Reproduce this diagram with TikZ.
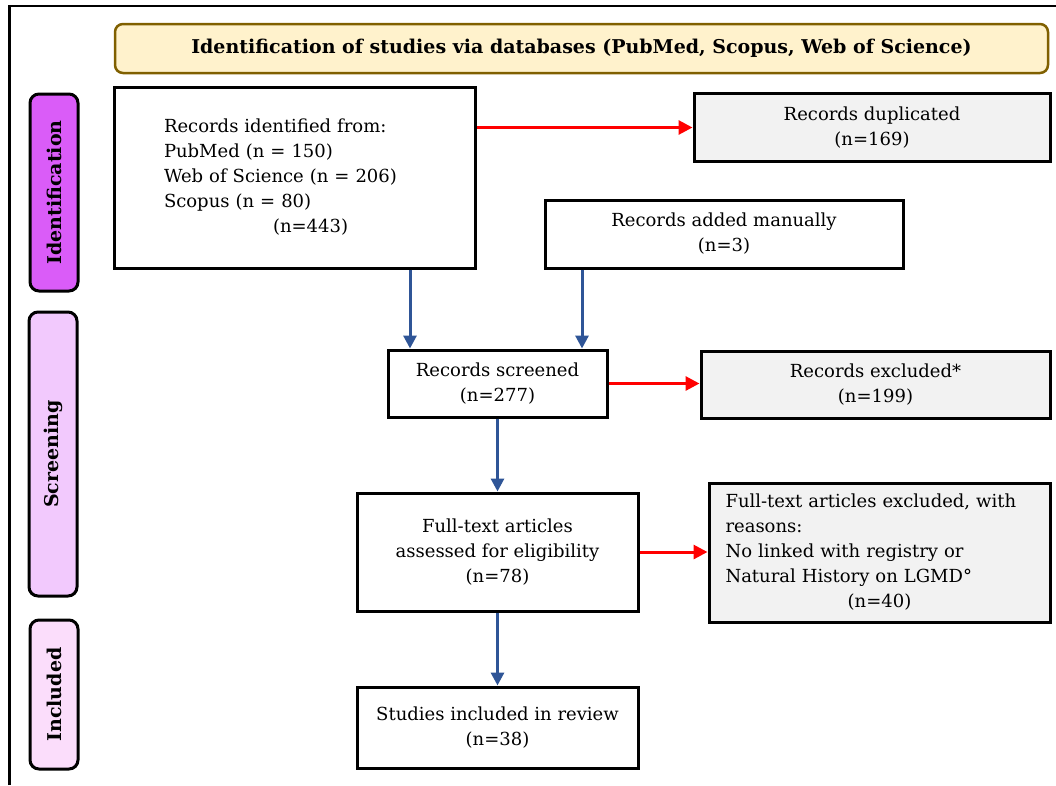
\documentclass[tikz,border=0pt]{standalone}
\usepackage{fontspec}
\setmainfont{DejaVu Serif}
\usetikzlibrary{arrows.meta}
\definecolor{titlefill}{HTML}{FFF2CC}
\definecolor{titlebrown}{HTML}{806000}
\definecolor{lanemag}{HTML}{DA5CF8}
\definecolor{lanepink}{HTML}{F2C9FD}
\definecolor{lanelight}{HTML}{FBDDFB}
\definecolor{boxgray}{HTML}{F2F2F2}
\definecolor{arrowred}{HTML}{FF0000}
\definecolor{arrowblue}{HTML}{2F5597}
\begin{document}
\begin{tikzpicture}[x=1pt,y=-1pt,
  box/.style={draw=black, line width=3pt, fill=white, align=center, inner sep=0pt,
    font=\fontsize{18}{25}\selectfont},
  graybox/.style={box, fill=boxgray},
  lane/.style={draw=black, line width=3pt, rounded corners=9pt, rotate=90, inner sep=0pt,
    font=\bfseries\fontsize{19}{22}\selectfont},
  redarrow/.style={draw=arrowred, line width=3pt, -{Triangle[length=14pt,width=14pt]}},
  bluearrow/.style={draw=arrowblue, line width=3pt, -{Triangle[length=13pt,width=13pt]}}]
\useasboundingbox (0,0) rectangle (1056,785);
\fill[white] (0,0) rectangle (1056,785);
% outer frame
\draw[line width=2.5pt] (9.5,785) -- (9.5,6) -- (1056,6);
% title
\node[draw=titlebrown, fill=titlefill, line width=2.5pt, rounded corners=8pt,
  minimum width=933pt, minimum height=49pt, inner sep=0pt,
  font=\bfseries\fontsize{19}{22}\selectfont] (title) at (581.5,48.5)
  {Identification of studies via databases (PubMed, Scopus, Web of Science)};
% lanes
\node[lane, fill=lanemag, minimum width=197pt, minimum height=48pt] (lid) at (54,192.5) {Identification};
\node[lane, fill=lanepink, minimum width=284pt, minimum height=48pt] (lsc) at (53,454) {Screening};
\node[lane, fill=lanelight, minimum width=149pt, minimum height=48pt] (lin) at (54,694.5) {Included};
% boxes
\node[box, minimum width=361pt, minimum height=181pt, text width=261pt, align=left] (ident) at (294.5,177.5)
  {Records identified from:\\ PubMed (n = 150)\\ Web of Science (n = 206)\\ Scopus (n = 80)\\ \hspace*{109pt}(n=443)};
\node[graybox, minimum width=356pt, minimum height=68pt] (dup) at (872,127.5)
  {Records duplicated\\ (n=169)};
\node[box, minimum width=358pt, minimum height=68pt] (manual) at (724,234)
  {Records added manually\\ (n=3)};
\node[box, minimum width=219pt, minimum height=67pt] (screen) at (497.5,383.5)
  {Records screened\\ (n=277)};
\node[graybox, minimum width=349pt, minimum height=67pt] (excl) at (875.5,384.5)
  {Records excluded*\\ (n=199)};
\node[box, minimum width=281pt, minimum height=118pt] (full) at (497.5,552)
  {Full-text articles\\ assessed for eligibility\\ (n=78)};
\node[graybox, minimum width=341pt, minimum height=139pt, text width=308pt, align=left] (fexcl) at (879.5,552.5)
  {Full-text articles excluded, with\\ reasons:\\ No linked with registry or\\ Natural History on LGMD°\\ \makebox[\linewidth]{(n=40)}};
\node[box, minimum width=281pt, minimum height=81pt] (incl) at (497.5,727.5)
  {Studies included in review\\ (n=38)};
% arrows
\draw[redarrow] (ident.east |- dup.west) -- (dup.west);
\draw[redarrow] (screen.east) -- (screen.east -| excl.west);
\draw[redarrow] (full.east) -- (full.east -| fexcl.west);
\draw[bluearrow] (ident.south -| 410,0) -- (screen.north -| 410,0);
\draw[bluearrow] (manual.south -| 582,0) -- (screen.north -| 582,0);
\draw[bluearrow] (screen.south) -- (full.north);
\draw[bluearrow] (full.south) -- (incl.north);
\end{tikzpicture}
\end{document}
